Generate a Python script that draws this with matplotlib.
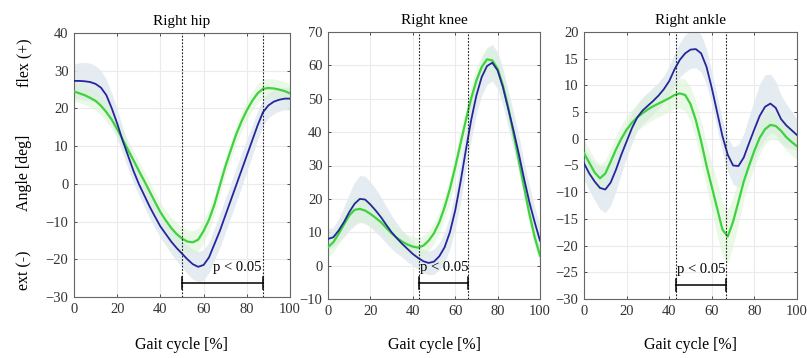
import matplotlib
matplotlib.use("Agg")
import matplotlib.pyplot as plt

plt.rcParams['font.family'] = ['Liberation Serif', 'DejaVu Serif']

# gait cycle sample points [%]
gait = [0, 2.5, 5, 7.5, 10, 12.5, 15, 17.5, 20, 22.5,
        25, 27.5, 30, 32.5, 35, 37.5, 40, 42.5, 45, 47.5,
        50, 52.5, 55, 57.5, 60, 62.5, 65, 67.5, 70, 72.5,
        75, 77.5, 80, 82.5, 85, 87.5, 90, 92.5, 95, 97.5, 100]

# ---- Right hip ----
hip_blue = [27.3, 27.3, 27.2, 27.0, 26.5, 25.5, 23.5, 20.0, 16.0, 11.5,
            7.5, 3.5, 0.0, -3.0, -6.0, -8.7, -11.3, -13.3, -15.3, -17.0,
            -18.5, -20.0, -21.3, -22.0, -21.5, -19.5, -16.0, -12.5, -8.5, -4.5,
            -0.5, 3.5, 7.5, 11.5, 15.5, 19.0, 20.8, 21.8, 22.3, 22.6, 22.6]
hip_blue_sd = [4.5, 4.8, 5.0, 5.0, 4.8, 4.5, 4.2, 4.0, 3.8, 3.5,
               3.3, 3.2, 3.0, 3.0, 3.0, 3.0, 3.0, 3.0, 3.2, 3.4,
               3.6, 3.8, 4.0, 4.0, 4.0, 4.0, 4.2, 4.4, 4.5, 4.5,
               4.5, 4.5, 4.3, 4.0, 3.8, 3.5, 3.3, 3.2, 3.0, 3.0, 3.0]
hip_green = [24.5, 24.0, 23.5, 22.8, 22.0, 20.7, 19.0, 17.0, 14.5, 11.8,
             9.0, 6.3, 3.5, 0.8, -2.0, -4.8, -7.5, -9.7, -11.7, -13.3,
             -14.5, -15.3, -15.5, -14.8, -12.5, -9.5, -5.5, -0.5, 4.5, 8.8,
             13.0, 16.5, 19.5, 22.0, 24.0, 25.2, 25.4, 25.3, 25.0, 24.6, 24.0]
hip_green_sd = [2.5, 2.5, 2.5, 2.5, 2.5, 2.5, 2.5, 2.5, 2.5, 2.5,
                2.5, 2.5, 2.5, 2.5, 2.5, 2.5, 2.5, 2.6, 2.8, 3.0,
                3.0, 3.0, 3.0, 3.0, 3.0, 3.0, 2.8, 2.6, 2.5, 2.5,
                2.5, 2.5, 2.5, 2.5, 2.5, 2.5, 2.5, 2.5, 2.5, 2.5, 2.5]

# ---- Right knee ----
knee_blue = [8.0, 8.5, 10.5, 13.0, 16.0, 18.5, 20.0, 19.8, 18.3, 16.5,
             14.5, 12.2, 10.0, 8.2, 6.5, 5.0, 3.5, 2.3, 1.3, 0.8,
             1.2, 2.8, 5.5, 10.0, 16.5, 25.0, 34.5, 43.5, 51.0, 56.5,
             59.8, 60.8, 58.5, 53.5, 47.0, 40.5, 33.5, 26.0, 19.0, 13.0, 7.5]
knee_blue_sd = [3.0, 3.0, 3.5, 4.5, 5.5, 6.5, 7.0, 7.0, 6.8, 6.5,
                6.0, 5.5, 5.0, 4.5, 4.0, 3.8, 3.5, 3.5, 3.5, 3.5,
                3.8, 4.0, 4.5, 5.0, 5.5, 6.0, 6.0, 6.0, 5.5, 5.5,
                5.5, 5.5, 5.5, 5.5, 5.5, 5.5, 5.5, 5.0, 5.0, 4.5, 4.5]
knee_green = [5.5, 7.0, 9.5, 12.3, 15.0, 16.7, 17.0, 16.5, 15.5, 14.3,
              13.0, 11.3, 9.7, 8.3, 7.2, 6.3, 5.7, 5.4, 6.0, 7.5,
              9.7, 13.0, 17.5, 23.0, 29.5, 36.5, 43.5, 50.0, 55.5, 59.5,
              61.8, 61.5, 59.0, 54.0, 47.5, 39.5, 31.5, 23.5, 15.5, 8.5, 3.0]
knee_green_sd = [3.0, 3.0, 3.0, 3.2, 3.5, 3.8, 4.0, 4.0, 3.8, 3.5,
                 3.2, 3.0, 3.0, 3.0, 3.0, 3.0, 3.0, 3.0, 3.0, 3.0,
                 3.0, 3.2, 3.5, 3.8, 4.0, 4.0, 4.0, 4.0, 3.8, 3.5,
                 3.5, 3.5, 3.5, 3.5, 3.5, 3.5, 3.5, 3.5, 3.2, 3.0, 3.0]

# ---- Right ankle ----
ankle_blue = [-4.6, -6.5, -8.0, -9.2, -9.5, -8.2, -5.8, -3.0, -0.5, 2.0,
              4.0, 5.3, 6.2, 7.1, 8.1, 9.3, 10.8, 13.0, 14.8, 16.0,
              16.7, 16.8, 16.0, 13.5, 9.5, 5.0, 0.5, -3.0, -5.0, -5.1,
              -3.5, -0.8, 1.8, 4.3, 6.0, 6.6, 5.8, 3.7, 2.5, 1.6, 0.7]
ankle_blue_sd = [3.0, 3.2, 3.5, 4.0, 4.3, 4.3, 4.0, 3.5, 3.0, 2.8,
                 2.5, 2.5, 2.5, 2.5, 2.5, 2.5, 2.8, 3.0, 3.2, 3.5,
                 3.5, 3.5, 3.5, 3.3, 3.0, 3.0, 3.0, 3.2, 3.5, 4.0,
                 4.5, 5.0, 5.5, 6.0, 6.0, 5.5, 5.0, 4.5, 4.0, 3.5, 3.0]
ankle_green = [-2.7, -4.5, -6.3, -7.4, -6.5, -4.3, -2.0, 0.0, 1.7, 3.0,
               4.0, 4.8, 5.5, 6.1, 6.6, 7.1, 7.6, 8.2, 8.5, 8.2,
               6.5, 3.5, -0.5, -5.0, -9.0, -13.0, -17.0, -18.3, -15.5, -11.8,
               -8.0, -5.0, -2.2, 0.2, 1.8, 2.6, 2.4, 1.5, 0.3, -0.6, -1.4]
ankle_green_sd = [2.5, 2.5, 2.5, 2.5, 2.5, 2.5, 2.5, 2.5, 2.5, 2.5,
                  2.5, 2.5, 2.5, 2.5, 2.5, 2.5, 2.5, 2.5, 2.8, 3.0,
                  3.2, 3.5, 3.8, 4.0, 4.5, 5.0, 5.0, 5.0, 4.5, 4.0,
                  3.5, 3.0, 3.0, 3.0, 2.8, 2.5, 2.5, 2.5, 2.5, 2.5, 2.5]

titles = ["Right hip", "Right knee", "Right ankle"]
y_limits = [(-30, 40), (-10, 70), (-30, 20)]
y_ticks = [list(range(-30, 41, 10)), list(range(-10, 71, 10)), list(range(-30, 21, 5))]
x_ticks = [0, 20, 40, 60, 80, 100]
sig_start = [50, 43, 43]
sig_end = [87.5, 66, 66.7]
sig_bar_y = [-26.3, -5.2, -27.4]
sig_label = "p < 0.05"

blue_series = [(hip_blue, hip_blue_sd), (knee_blue, knee_blue_sd), (ankle_blue, ankle_blue_sd)]
green_series = [(hip_green, hip_green_sd), (knee_green, knee_green_sd), (ankle_green, ankle_green_sd)]

BLUE = "#26269c"
GREEN = "#3ed23e"
BLUE_BAND = "#e2e9f0"
GREEN_BAND = "#d9f3d3"

fig = plt.figure(figsize=(8.07, 3.58), dpi=100)
positions = [
    [74 / 807, 61 / 358, 216 / 807, 264 / 358],
    [328 / 807, 59 / 358, 212 / 807, 267 / 358],
    [584 / 807, 59 / 358, 213 / 807, 267 / 358],
]

for i in range(3):
    ax = fig.add_axes(positions[i])
    bm, bs = blue_series[i]
    gm, gs = green_series[i]
    ax.fill_between(gait, [m - s for m, s in zip(bm, bs)], [m + s for m, s in zip(bm, bs)],
                    color=BLUE_BAND, alpha=0.9, lw=0, zorder=1)
    ax.fill_between(gait, [m - s for m, s in zip(gm, gs)], [m + s for m, s in zip(gm, gs)],
                    color=GREEN_BAND, alpha=0.55, lw=0, zorder=1.1)
    ax.plot(gait, gm, color=GREEN, lw=1.6, zorder=3)
    ax.plot(gait, bm, color=BLUE, lw=1.3, zorder=3.1)

    lo, hi = y_limits[i]
    ax.set_xlim(0, 100)
    ax.set_ylim(lo, hi)
    ax.set_xticks(x_ticks)
    ax.set_yticks(y_ticks[i])
    ax.grid(True, color="#ebebeb", lw=0.8, zorder=0)
    ax.set_axisbelow(True)
    ax.tick_params(direction="in", length=2.5, width=0.6, labelsize=10.5,
                   colors="#333333", top=True, right=True, pad=4)
    for sp in ax.spines.values():
        sp.set_color("#666666")
        sp.set_linewidth(0.8)

    # significance window
    for xv in (sig_start[i], sig_end[i]):
        ax.axvline(xv, color="#222222", lw=0.8, ls=(0, (1.6, 1.4)), zorder=4)
    yb = sig_bar_y[i]
    cap = (hi - lo) * 0.022
    ax.plot([sig_start[i], sig_end[i]], [yb, yb], color="black", lw=1.1, zorder=5)
    ax.plot([sig_start[i], sig_start[i]], [yb - cap, yb + cap], color="black", lw=1.1, zorder=5)
    ax.plot([sig_end[i], sig_end[i]], [yb - cap, yb + cap], color="black", lw=1.1, zorder=5)
    if i == 0:
        ax.text(sig_end[i] - 0.5, yb + (hi - lo) * 0.035, sig_label, ha="right", va="bottom",
                fontsize=10.5, zorder=6)
    else:
        ax.text(sig_start[i] + 0.5, yb + (hi - lo) * 0.035, sig_label, ha="left", va="bottom",
                fontsize=10.5, zorder=6)

    ax.set_title(titles[i], fontsize=11, pad=6)
    cx = positions[i][0] + positions[i][2] / 2
    fig.text(cx, 0.035, "Gait cycle [%]", ha="center", va="center", fontsize=11.5)

fig.text(0.030, 0.824, "flex (+)", rotation=90, ha="center", va="center", fontsize=11.5)
fig.text(0.030, 0.517, "Angle [deg]", rotation=90, ha="center", va="center", fontsize=11.5)
fig.text(0.030, 0.246, "ext (-)", rotation=90, ha="center", va="center", fontsize=11.5)

fig.savefig("out.png", dpi=100)
